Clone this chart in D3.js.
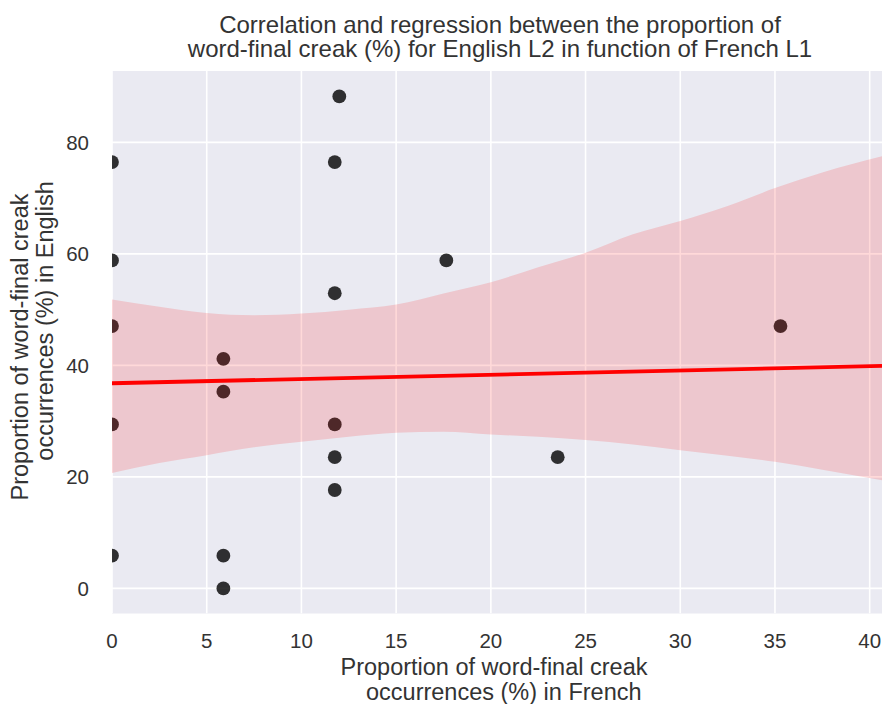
<!DOCTYPE html>
<html>
<head>
<meta charset="utf-8">
<script src="https://cdn.jsdelivr.net/npm/d3@7"></script>
<style>
  html, body { margin: 0; padding: 0; background: #ffffff; overflow: hidden; }
  #chart { width: 882px; height: 704px; }
  #chart svg { display: block; }
</style>
</head>
<body>
<div id="chart"></div>
<script>
// ---------- 1. Data ----------
// French proportion (x) and English proportion (y), in %
const frenchPct = [0, 0, 0, 0, 0, 5.88, 5.88, 5.88, 5.88, 11.76, 11.76, 11.76, 11.76, 11.76, 12.0, 17.65, 23.53, 35.29];
const englishPct = [76.47, 58.82, 47.06, 29.41, 5.88, 41.18, 35.29, 5.88, 0, 76.47, 52.94, 29.41, 23.53, 17.65, 88.24, 58.82, 23.53, 47.06];

// fitted regression line (end points, data units)
const regX = [0, 40.65];
const regY = [36.8, 39.9];

// confidence band
const ciX = [0, 2.5, 5, 7.5, 10, 12.5, 15, 17.5, 20, 22.5, 25, 27.5, 30, 32.5, 35, 37.5, 40.65];
const ciUpper = [51.8, 50.5, 49.4, 49.0, 49.3, 50.0, 50.9, 52.9, 54.9, 57.6, 60.2, 63.5, 65.9, 68.6, 71.8, 74.6, 77.5];
const ciLower = [20.7, 22.5, 23.9, 25.3, 26.3, 27.2, 27.9, 28.1, 27.6, 27.2, 26.6, 25.8, 24.8, 23.8, 22.7, 21.3, 19.4];

const xTicks = [0, 5, 10, 15, 20, 25, 30, 35, 40];
const yTicks = [0, 20, 40, 60, 80];

const titleLines = ["Correlation and regression between the proportion of",
                    "word-final creak (%) for English L2 in function of French L1"];
const xLabelLines = ["Proportion of word-final creak", "   occurrences (%) in French"];
const yLabelLines = ["Proportion of word-final creak", "        occurrences (%) in English"];

// ---------- 2. Layout ----------
const width = 882, height = 704;
const margin = { top: 71, right: 0, bottom: 90.5, left: 112 };
const innerWidth = width - margin.left - margin.right;
const innerHeight = height - margin.top - margin.bottom;

const font = "'Liberation Sans', Arial, sans-serif";
const textColor = "#333333";
const bgColor = "#EAEAF2";

const svg = d3.select("#chart")
    .append("svg")
    .attr("width", width)
    .attr("height", height)
    .attr("viewBox", `0 0 ${width} ${height}`);

svg.append("defs").append("clipPath")
    .attr("id", "plot-clip")
    .append("rect")
    .attr("width", innerWidth)
    .attr("height", innerHeight);

const chart = svg.append("g")
    .attr("transform", `translate(${margin.left}, ${margin.top})`);

// ---------- 3. Scales ----------
const xScale = d3.scaleLinear().domain([0, 40.65]).range([0, innerWidth]);
const yScale = d3.scaleLinear().domain([-4.5, 92.8]).range([innerHeight, 0]);

// ---------- 4. Background + grid ----------
chart.append("rect")
    .attr("width", innerWidth)
    .attr("height", innerHeight)
    .attr("fill", bgColor);

const grid = chart.append("g").attr("clip-path", "url(#plot-clip)");
grid.selectAll(".gx")
    .data(xTicks)
    .enter()
    .append("line")
    .attr("x1", d => xScale(d)).attr("x2", d => xScale(d))
    .attr("y1", 0).attr("y2", innerHeight)
    .attr("stroke", "#ffffff")
    .attr("stroke-width", 1.6);
grid.selectAll(".gy")
    .data(yTicks)
    .enter()
    .append("line")
    .attr("x1", 0).attr("x2", innerWidth)
    .attr("y1", d => yScale(d)).attr("y2", d => yScale(d))
    .attr("stroke", "#ffffff")
    .attr("stroke-width", 1.6);

// ---------- 5. Marks ----------
const plot = chart.append("g").attr("clip-path", "url(#plot-clip)");

plot.selectAll(".dot")
    .data(frenchPct.map((x, i) => ({ x: x, y: englishPct[i] })))
    .enter()
    .append("circle")
    .attr("class", "dot")
    .attr("cx", d => xScale(d.x))
    .attr("cy", d => yScale(d.y))
    .attr("r", 6.9)
    .attr("fill", "#000000")
    .attr("fill-opacity", 0.8);

// confidence band drawn over the dots, like seaborn does
const band = d3.area()
    .x(d => xScale(d.x))
    .y0(d => yScale(d.lo))
    .y1(d => yScale(d.hi))
    .curve(d3.curveMonotoneX);

plot.append("path")
    .datum(ciX.map((x, i) => ({ x: x, lo: ciLower[i], hi: ciUpper[i] })))
    .attr("d", band)
    .attr("fill", "#ff0000")
    .attr("fill-opacity", 0.15);

plot.append("path")
    .datum(regX.map((x, i) => [x, regY[i]]))
    .attr("d", d3.line().x(d => xScale(d[0])).y(d => yScale(d[1])))
    .attr("fill", "none")
    .attr("stroke", "#ff0000")
    .attr("stroke-width", 3.8);

// ---------- 6. Tick labels (own layer, outside the plot group) ----------
const xTickLayer = svg.append("g")
    .attr("transform", `translate(${margin.left}, ${margin.top + innerHeight})`);
xTickLayer.selectAll(".xtick")
    .data(xTicks)
    .enter()
    .append("text")
    .attr("class", "xtick")
    .attr("x", d => xScale(d))
    .attr("y", 34.5)
    .attr("text-anchor", "middle")
    .style("font-family", font)
    .style("font-size", "20.5px")
    .style("fill", textColor)
    .text(d => d);

const yTickLayer = svg.append("g")
    .attr("transform", `translate(${margin.left - 23}, ${margin.top})`);
yTickLayer.selectAll(".ytick")
    .data(yTicks)
    .enter()
    .append("text")
    .attr("class", "ytick")
    .attr("x", 0)
    .attr("y", d => yScale(d))
    .attr("dy", "0.36em")
    .attr("text-anchor", "end")
    .style("font-family", font)
    .style("font-size", "20.5px")
    .style("fill", textColor)
    .text(d => d);

// ---------- 7. Title and axis labels ----------
svg.selectAll(".title")
    .data(titleLines)
    .enter()
    .append("text")
    .attr("class", "title")
    .attr("x", 500)
    .attr("y", (d, i) => 33 + i * 23.5)
    .attr("text-anchor", "middle")
    .style("font-family", font)
    .style("font-size", "24px")
    .style("fill", textColor)
    .style("white-space", "pre")
    .text(d => d);

svg.selectAll(".xlabel")
    .data(xLabelLines)
    .enter()
    .append("text")
    .attr("class", "xlabel")
    .attr("x", 494)
    .attr("y", (d, i) => 675 + i * 24.5)
    .attr("text-anchor", "middle")
    .style("font-family", font)
    .style("font-size", "23.5px")
    .style("fill", textColor)
    .style("white-space", "pre")
    .text(d => d);

svg.selectAll(".ylabel")
    .data(yLabelLines)
    .enter()
    .append("text")
    .attr("class", "ylabel")
    .attr("transform", (d, i) => `translate(${28 + i * 25}, 347) rotate(-90)`)
    .attr("text-anchor", "middle")
    .style("font-family", font)
    .style("font-size", "23.5px")
    .style("fill", textColor)
    .style("white-space", "pre")
    .text(d => d);
</script>
</body>
</html>
